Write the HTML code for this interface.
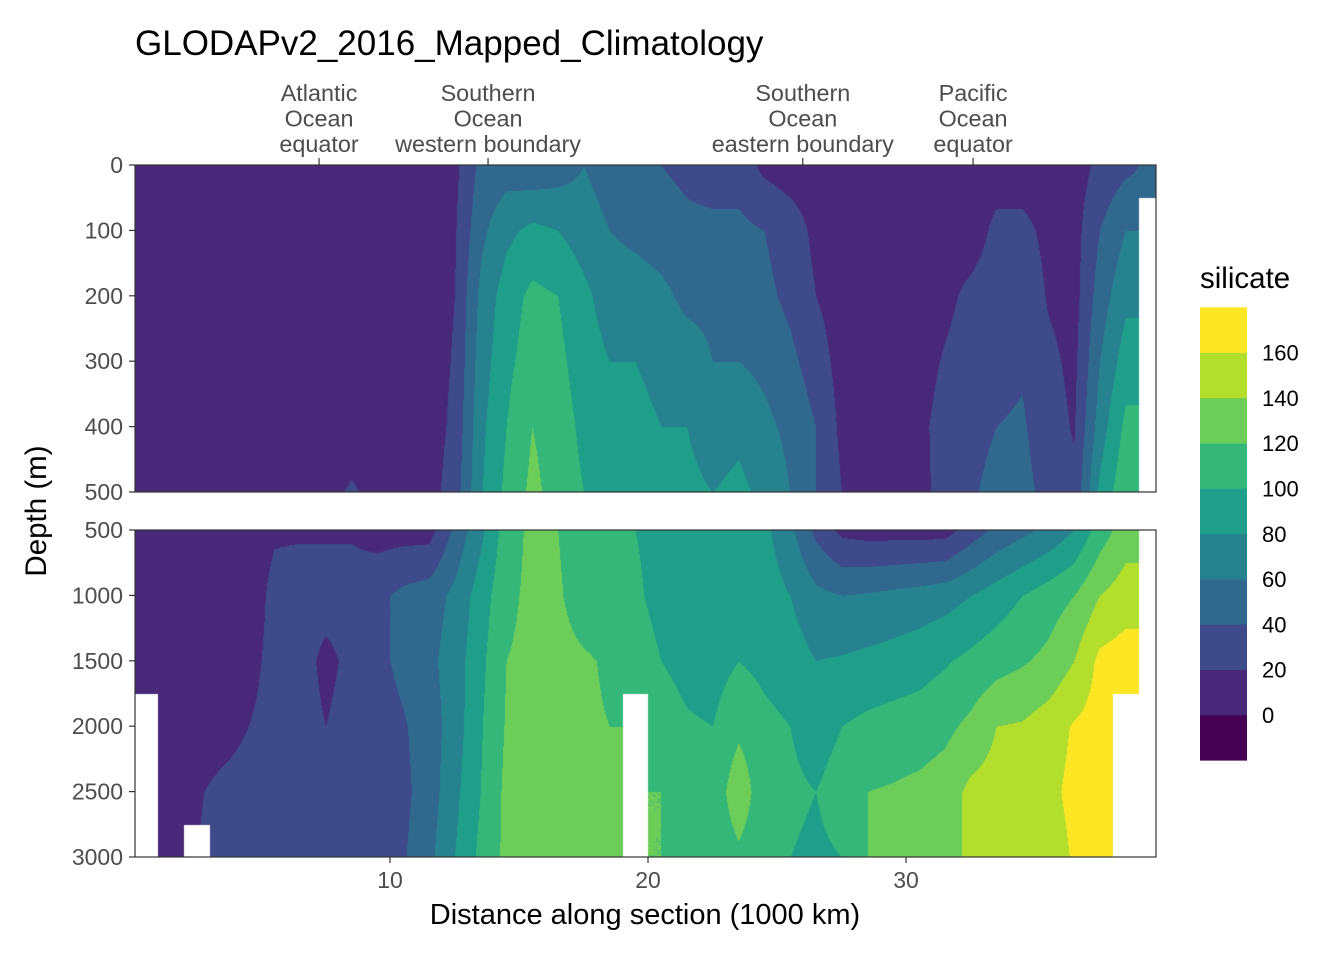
<!DOCTYPE html>
<html><head><meta charset="utf-8">
<style>
body{margin:0;background:#fff;}
#wrap{position:relative;width:1344px;height:960px;font-family:"Liberation Sans",sans-serif;}
canvas{position:absolute;}
svg{position:absolute;left:0;top:0;}
</style></head>
<body>
<div id="wrap">
<canvas id="cTop" width="1021" height="327" style="left:135px;top:165px"></canvas>
<canvas id="cBot" width="1021" height="327" style="left:135px;top:530px"></canvas>
<svg id="svg" width="1344" height="960"></svg>
</div>
<script>
// ---- data ----
const distances = [0.5,1.5,2.5,3.5,4.5,5.5,6.5,7.5,8.5,9.5,10.5,11.5,12.5,13.5,14.5,15.5,16.5,17.5,18.5,19.5,20.5,21.5,22.5,23.5,24.5,25.5,26.5,27.5,28.5,29.5,30.5,31.5,32.5,33.5,34.5,35.5,36.5,37.5,38.5,39.5];
const topDepths = [0,100,200,300,400,500];
const bottomDepths = [500,1000,1500,2000,2500,3000];
const N=null;
const d0   =[10,10,10,10,10,10,10,10,10,10,10,10,15,45,50,45,50,60,50,45,40,35,30,30,15,10,10,10,10,10,10,10,10,10,10,10,10,25,35,45];
const d100 =[10,10,10,10,10,10,10,10,10,10,10,10,18,55,75,85,80,70,60,55,50,45,45,45,40,30,15,10,10,10,10,10,10,25,25,15,12,40,60,N];
const d200 =[10,10,10,10,10,10,10,10,10,10,10,10,20,65,90,105,100,85,70,70,65,55,55,50,45,35,20,10,10,10,10,15,25,30,35,18,12,50,75,N];
const d300 =[10,10,10,10,10,10,10,10,10,10,10,10,22,70,95,110,105,90,80,80,75,70,60,60,55,45,30,12,12,12,12,22,30,35,38,25,15,60,90,N];
const d400 =[10,10,10,10,10,10,10,10,12,10,10,10,25,75,100,120,110,95,90,85,80,80,70,75,65,55,40,15,15,15,15,28,35,40,42,30,18,70,105,N];
const d500 =[10,10,10,10,10,10,10,15,22,15,12,12,30,78,105,125,112,100,95,92,85,85,80,85,75,60,40,20,12,12,12,30,38,45,45,35,25,85,115,N];
const d500b=[10,10,10,10,10,18,18,18,18,12,12,12,45,75,110,125,120,110,105,100,90,85,80,95,85,65,35,15,12,12,12,12,30,45,55,65,80,110,130,N];
const d1000=[10,10,10,10,10,25,28,28,28,35,45,50,65,90,115,125,122,112,110,105,90,88,85,90,90,80,65,60,62,65,68,72,80,90,100,110,120,140,150,N];
const d1500=[10,10,10,10,15,25,28,15,25,35,45,55,70,95,120,125,125,122,118,115,100,95,92,100,95,90,80,82,85,88,92,98,105,112,118,125,140,165,170,N];
const d2000=[N,10,10,12,20,25,28,20,28,32,38,50,70,98,122,128,125,122,120,N,108,102,100,115,105,100,95,100,105,108,110,115,125,140,142,150,162,168,N,N];
const d2500=[N,12,18,25,28,30,30,30,30,30,35,50,75,100,125,128,125,122,122,N,120,112,105,135,105,102,100,105,120,122,125,130,145,148,150,155,165,168,N,N];
const d3000=[N,15,N,28,30,30,30,30,30,35,38,55,80,105,125,125,125,122,122,N,120,115,105,115,105,100,98,100,120,122,125,130,145,148,148,150,162,165,N,N];
const topRows=[d0,d100,d200,d300,d400,d500];
const botRows=[d500b,d1000,d1500,d2000,d2500,d3000];
const levels=[0,20,40,60,80,100,120,140,160];
const legendLabels=["0","20","40","60","80","100","120","140","160"];
const xTicks=[10,20,30];
const topTickLabels=["0","100","200","300","400","500"];
const botTickLabels=["500","1000","1500","2000","2500","3000"];
const markers=[{x:7.25,t:["Atlantic","Ocean","equator"]},{x:13.8,t:["Southern","Ocean","western boundary"]},{x:26.0,t:["Southern","Ocean","eastern boundary"]},{x:32.6,t:["Pacific","Ocean","equator"]}];
const colors=[[68,1,84],[72,40,120],[62,74,137],[49,104,142],[38,130,142],[31,158,137],[53,183,121],[109,205,89],[180,222,44],[253,231,37]];

// ---- scales ----
const X0=132, XS=25.8;
const xPx=d=>X0+d*XS;
const yTop=d=>165+(d-0)/500*327;
const yBot=d=>530+(d-500)/2500*327;

function colorIdx(v){let i=0;while(i<levels.length&&v>=levels[i])i++;return i;}
function drawPanel(cv,rows,depths,yf){
  const ctx=cv.getContext('2d');const W=cv.width,H=cv.height;
  const img=ctx.createImageData(W,H);const D=img.data;
  const n=distances.length;
  for(let py=0;py<H;py++){
    const yy=py+parseFloat(cv.style.top);
    let dep=depths[0]+(yy-yf(depths[0]))/(yf(depths[depths.length-1])-yf(depths[0]))*(depths[depths.length-1]-depths[0]);
    let j=0;while(j<depths.length-2&&dep>depths[j+1])j++;
    let ty=(dep-depths[j])/(depths[j+1]-depths[j]);ty=Math.max(0,Math.min(1,ty));
    for(let px=0;px<W;px++){
      const xd=(px+135-X0)/XS;
      let i=0;while(i<n-2&&xd>distances[i+1])i++;
      let tx=(xd-distances[i])/(distances[i+1]-distances[i]);tx=Math.max(0,Math.min(1,tx));
      const ni=tx<0.5?i:i+1, nj=ty<0.5?j:j+1;
      const o=(py*W+px)*4;
      if(rows[nj][ni]===null){D[o]=255;D[o+1]=255;D[o+2]=255;D[o+3]=255;continue;}
      const pts=[[rows[j][i],(1-tx)*(1-ty)],[rows[j][i+1],tx*(1-ty)],[rows[j+1][i],(1-tx)*ty],[rows[j+1][i+1],tx*ty]];
      let s=0,w=0;for(const [v,ww] of pts){if(v!==null){s+=v*ww;w+=ww;}}
      const c=colors[colorIdx(s/w)];
      D[o]=c[0];D[o+1]=c[1];D[o+2]=c[2];D[o+3]=255;
    }
  }
  ctx.putImageData(img,0,0);
}
drawPanel(document.getElementById('cTop'),topRows,topDepths,yTop);
drawPanel(document.getElementById('cBot'),botRows,bottomDepths,yBot);

// ---- axes svg ----
const svg=document.getElementById('svg');const NS='http://www.w3.org/2000/svg';
function mk(tag,attrs,txt){const e=document.createElementNS(NS,tag);for(const k in attrs)e.setAttribute(k,attrs[k]);if(txt!==undefined)e.textContent=txt;svg.appendChild(e);return e;}
let e;
e=mk('rect',{x:135,y:165,width:1021,height:327,fill:'none',stroke:'#333','stroke-width':1.2});

e=mk('rect',{x:135,y:530,width:1021,height:327,fill:'none',stroke:'#333','stroke-width':1.2});

topDepths.forEach((d,k)=>{const y=yTop(d);mk('line',{x1:129,x2:135,y1:y,y2:y,stroke:'#333','stroke-width':1.2});
 e=mk('text',{x:123,y:y+8,'text-anchor':'end','font-size':23,fill:'#4d4d4d'},topTickLabels[k]);
 });
bottomDepths.forEach((d,k)=>{const y=yBot(d);mk('line',{x1:129,x2:135,y1:y,y2:y,stroke:'#333','stroke-width':1.2});
 e=mk('text',{x:123,y:y+8,'text-anchor':'end','font-size':23,fill:'#4d4d4d'},botTickLabels[k]);
 });
xTicks.forEach(t=>{const x=xPx(t);mk('line',{x1:x,x2:x,y1:857,y2:863,stroke:'#333','stroke-width':1.2});
 e=mk('text',{x:x,y:888,'text-anchor':'middle','font-size':23,fill:'#4d4d4d'},String(t));
 });
markers.forEach(m=>{const x=xPx(m.x);mk('line',{x1:x,x2:x,y1:158,y2:165,stroke:'#333','stroke-width':1.2});
 m.t.forEach((s,k)=>{e=mk('text',{x:x,y:101+k*25.5,'text-anchor':'middle','font-size':23.4,fill:'#4d4d4d'},s);
 });});
e=mk('text',{x:135,y:55,'font-size':35,fill:'#000'},'GLODAPv2_2016_Mapped_Climatology');

e=mk('text',{x:645,y:924,'text-anchor':'middle','font-size':29,fill:'#000'},'Distance along section (1000 km)');

e=mk('text',{x:46,y:511,'text-anchor':'middle','font-size':29.5,fill:'#000',transform:'rotate(-90 46 511)'},'Depth (m)');

e=mk('text',{x:1200,y:288,'font-size':29.5,fill:'#000'},'silicate');

for(let k=0;k<colors.length;k++){const y=715-k*45.3;
 e=mk('rect',{x:1200,y:y,width:47,height:45.6,fill:`rgb(${colors[k]})`});
 }
legendLabels.forEach((s,k)=>{e=mk('text',{x:1262,y:723-k*45.3,'font-size':22,fill:'#000'},s);
 });
</script>
</body></html>
